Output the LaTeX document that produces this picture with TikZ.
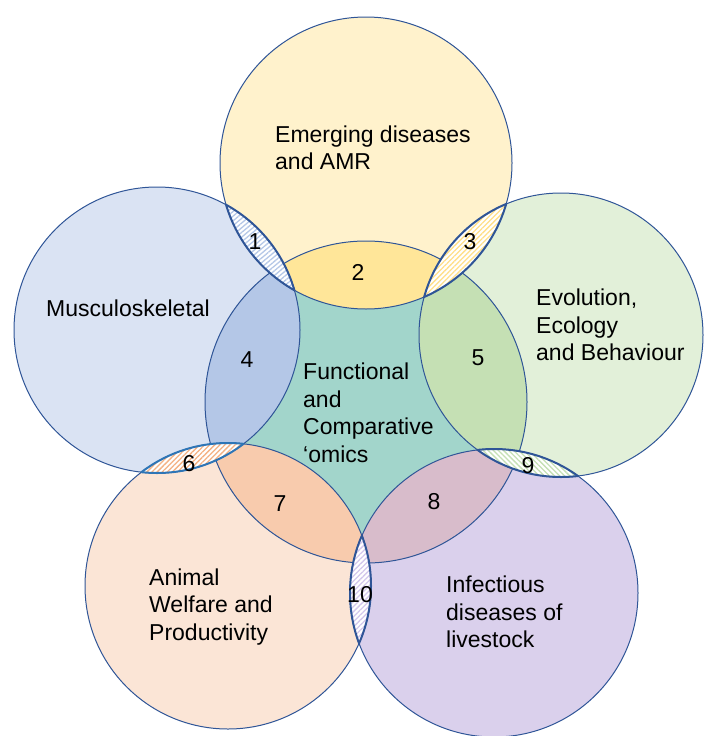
\documentclass[tikz,border=0pt]{standalone}
\usepackage{fontspec}
\setmainfont{Liberation Sans}
\usetikzlibrary{patterns.meta}

\definecolor{edge}{HTML}{2F5597}
\definecolor{edgelight}{HTML}{2E75B6}
% outer circle fills
\definecolor{topfill}{HTML}{FFF2CC}
\definecolor{leftfill}{HTML}{DAE3F3}
\definecolor{rightfill}{HTML}{E2F0D9}
\definecolor{blfill}{HTML}{FBE5D6}
\definecolor{brfill}{HTML}{DAD0EC}
% centre and its overlaps
\definecolor{centrefill}{HTML}{A2D5CB}
\definecolor{topmix}{HTML}{FFE699}
\definecolor{leftmix}{HTML}{B4C7E7}
\definecolor{rightmix}{HTML}{C5E0B4}
\definecolor{blmix}{HTML}{F8CBAD}
\definecolor{brmix}{HTML}{D8BCCB}
% hatching colours of the small lenses
\definecolor{hatchA}{HTML}{B4C7E7}
\definecolor{hatchB}{HTML}{FFE08A}
\definecolor{hatchC}{HTML}{F4B183}
\definecolor{hatchD}{HTML}{C5E0B4}
\definecolor{hatchE}{HTML}{D3C7EC}

% circle geometry
\newcommand\shpTop{(366,163) circle (146pt)}
\newcommand\shpLeft{(157,330) circle (143pt)}
\newcommand\shpRight{(561,335) circle (142pt)}
\newcommand\shpBL{(228,586) circle (143pt)}
\newcommand\shpBR{(494,593) circle (144pt)}
\newcommand\shpCentre{(366,402) circle (161pt)}

\tikzset{
  ring/.style={draw=edge, line width=1pt},
  lensline/.style={draw=#1, line width=2pt},
  label/.style={font=\fontsize{23}{27.5}\selectfont, align=left, inner sep=0pt},
  num/.style={font=\fontsize{23}{27.5}\selectfont, inner sep=0pt},
  hatch/.style={pattern={Lines[angle=#1,distance=3.6pt,line width=1.3pt]}},
}

% lens between two circles: white base, hatching, outline
\newcommand\lens[5]{%
  \begin{scope}\clip #1; \fill[white] #2; \fill[hatch=#4, pattern color=#3] #2; \end{scope}
  \begin{scope}\clip #1; \draw[lensline=#5] #2; \end{scope}
  \begin{scope}\clip #2; \draw[lensline=#5] #1; \end{scope}
}

\begin{document}
\begin{tikzpicture}[x=1pt,y=-1pt]
\useasboundingbox (0,0) rectangle (704,736);

% outer circles
\fill[topfill] \shpTop;
\fill[leftfill] \shpLeft;
\fill[rightfill] \shpRight;
\fill[blfill] \shpBL;
\fill[brfill] \shpBR;

% central circle and its overlaps
\fill[centrefill] \shpCentre;
\begin{scope}
  \clip \shpCentre;
  \fill[topmix] \shpTop;
  \fill[leftmix] \shpLeft;
  \fill[rightmix] \shpRight;
  \fill[blmix] \shpBL;
  \fill[brmix] \shpBR;
\end{scope}

% outlines of all circles
\draw[ring] \shpTop;
\draw[ring] \shpLeft;
\draw[ring] \shpRight;
\draw[ring] \shpBL;
\draw[ring] \shpBR;
\draw[ring] \shpCentre;

% hatched lenses between neighbouring outer circles
\lens{\shpTop}{\shpLeft}{hatchA}{40}{edge}
\lens{\shpTop}{\shpRight}{hatchB}{45}{edge}
\lens{\shpLeft}{\shpBL}{hatchC}{45}{edgelight}
\lens{\shpRight}{\shpBR}{hatchD}{-45}{edge}
\lens{\shpBL}{\shpBR}{hatchE}{45}{edge}

% circle titles
\node[label, anchor=west] (emerging) at (275,148) {Emerging diseases\\and AMR};
\node[label, anchor=base west] (musculo) at (46,316) {Musculoskeletal};
\node[label, anchor=west] (evolution) at (536,325) {Evolution,\\Ecology\\and Behaviour};
\node[label, anchor=west] (omics) at (303,413) {Functional\\and\\Comparative\\‘omics};
\node[label, anchor=west] (welfare) at (149,607) {Animal\\Welfare and\\Productivity};
\node[label, anchor=west] (infectious) at (446,612) {Infectious\\diseases of\\livestock};

% overlap numbers
\node[num] (n1) at (255,242) {1};
\node[num] (n2) at (358,272) {2};
\node[num] (n3) at (470,242) {3};
\node[num] (n4) at (247,360) {4};
\node[num] (n5) at (478,358) {5};
\node[num] (n6) at (189,464) {6};
\node[num] (n7) at (280,504) {7};
\node[num] (n8) at (434,502) {8};
\node[num] (n9) at (528,466) {9};
\node[num] (n10) at (360,595) {10};
\end{tikzpicture}
\end{document}
